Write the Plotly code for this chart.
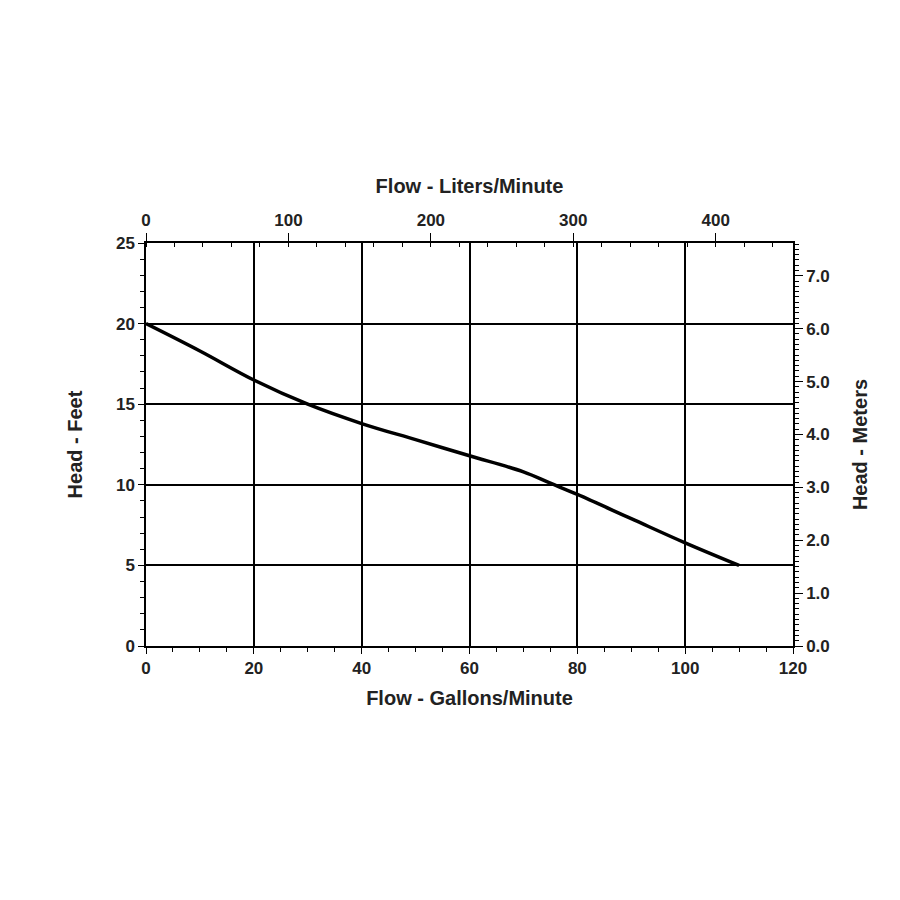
import plotly.graph_objects as go

gpm = [0, 10, 20, 30, 40, 50, 60, 70, 75, 80, 90, 100, 110]
head_ft = [20, 18.3, 16.5, 15.0, 13.8, 12.8, 11.8, 10.8, 10.1, 9.4, 7.9, 6.4, 5.0]

GAL2L = 3.785411784
FT2M = 0.3048

fig = go.Figure()
fig.add_trace(go.Scatter(x=gpm, y=head_ft, mode="lines", line=dict(color="black", width=3.5, shape="spline"), showlegend=False))
fig.add_trace(go.Scatter(x=[0, 120 * GAL2L], y=[0, 0], xaxis="x2", yaxis="y", mode="lines", line=dict(width=0), showlegend=False, hoverinfo="skip"))
fig.add_trace(go.Scatter(x=[0, 0], y=[0, 25 * FT2M], xaxis="x", yaxis="y2", mode="lines", line=dict(width=0), showlegend=False, hoverinfo="skip"))

font = dict(family="Liberation Sans", size=20, color="#222")
tickf = dict(family="Liberation Sans", size=17, color="#222", weight="bold")
fig.update_layout(
    width=900, height=900, plot_bgcolor="white", paper_bgcolor="white",
    margin=dict(l=0, r=0, t=0, b=0),
    font=dict(family="Liberation Sans"),
    xaxis=dict(domain=[138/900, 785/900], range=[0, 120], dtick=20, showgrid=True, gridcolor="black", gridwidth=1.5,
               showline=True, linecolor="black", linewidth=1.5, ticks="outside", ticklen=6, tickcolor="black",
               minor=dict(dtick=5, ticks="outside", ticklen=4, tickcolor="black"), automargin=False,
               tickfont=tickf, title=dict(text="<b>Flow - Gallons/Minute</b>", font=font, standoff=14), zeroline=False),
    yaxis=dict(domain=[1-638/900, 1-235/900], range=[0, 25], dtick=5, showgrid=True, gridcolor="black", gridwidth=1.5,
               showline=True, linecolor="black", linewidth=1.5, ticks="outside", ticklen=6, tickcolor="black",
               minor=dict(dtick=1, ticks="outside", ticklen=4, tickcolor="black"), automargin=False,
               tickfont=tickf, title=dict(text="<b>Head - Feet</b>", font=font, standoff=28), zeroline=False),
    xaxis2=dict(overlaying="x", side="top", anchor="y", range=[0, 120 * GAL2L], dtick=100, showgrid=False,
                ticks="outside", ticklen=8, tickcolor="black", showline=True, linecolor="black", linewidth=1.5,
                minor=dict(dtick=20, ticks="inside", ticklen=4, tickcolor="black"), automargin=False,
                tickfont=tickf, title=dict(text="<b>Flow - Liters/Minute</b>", font=font, standoff=12), zeroline=False),
    yaxis2=dict(overlaying="y", side="right", anchor="x", range=[0, 25 * FT2M], dtick=1, tickformat=".1f", showgrid=False,
                ticks="outside", ticklen=8, tickcolor="black", showline=True, linecolor="black", linewidth=1.5,
                minor=dict(dtick=0.1, ticks="outside", ticklen=4, tickcolor="black"), automargin=False,
                tickfont=tickf, title=dict(text="<b>Head - Meters</b>", font=font, standoff=24), zeroline=False),
)
fig.write_html("out.html")
